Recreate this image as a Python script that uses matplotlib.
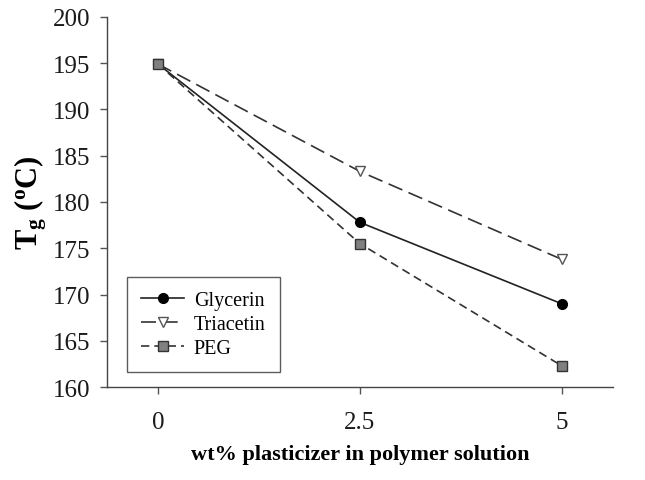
import matplotlib.pyplot as plt

plt.rcParams['font.family'] = 'Liberation Serif'
plt.rcParams['mathtext.fontset'] = 'custom'
plt.rcParams['mathtext.rm'] = 'Liberation Serif'
plt.rcParams['mathtext.bf'] = 'Liberation Serif:bold'

wt = [0, 2.5, 5]
glycerin = [194.9, 177.8, 169.0]
triacetin = [194.9, 183.3, 173.8]
peg = [194.9, 175.5, 162.3]

fig = plt.figure(figsize=(6.45, 4.81), dpi=100)
ax = fig.add_axes([0.166, 0.193, 0.784, 0.770])

ax.plot(wt, glycerin, color='#222222', lw=1.2, marker='o', ms=7,
        mfc='black', mec='black', label='Glycerin')
ax.plot(wt, triacetin, color='#333333', lw=1.2, dashes=(9, 4), marker='v', ms=7,
        mfc='white', mec='#555555', label='Triacetin')
ax.plot(wt, peg, color='#333333', lw=1.2, dashes=(5, 3), marker='s', ms=6.5,
        mfc='#808080', mec='#333333', label='PEG')

ax.set_xlim(-0.63, 5.63)
ax.set_ylim(160, 200)
ax.set_xticks(wt)
ax.set_xticklabels(['0', '2.5', '5'])
ax.set_yticks(range(160, 201, 5))
ax.tick_params(labelsize=18, length=5, width=1, color='#555555', direction='out',
               labelcolor='#1a1a1a')
ax.tick_params(axis='x', pad=12)
ax.tick_params(axis='y', pad=7)
for s in ['top', 'right']:
    ax.spines[s].set_visible(False)
for s in ['left', 'bottom']:
    ax.spines[s].set_color('#444444')
    ax.spines[s].set_linewidth(1.0)

ax.set_xlabel('wt% plasticizer in polymer solution', fontsize=16, fontweight='bold', labelpad=8)
ax.set_ylabel(r'$\mathbf{T_g}$ ($\mathregular{^o}$C)', fontsize=22, fontweight='bold', labelpad=3)

leg = ax.legend(loc='lower left', bbox_to_anchor=(0.04, 0.04), borderaxespad=0,
                fontsize=14.5, frameon=True, fancybox=False, edgecolor='#333333',
                handlelength=2.1, handletextpad=0.5, borderpad=0.7, labelspacing=0.25)
leg.get_frame().set_linewidth(1.0)

fig.savefig('out.png', dpi=100)
